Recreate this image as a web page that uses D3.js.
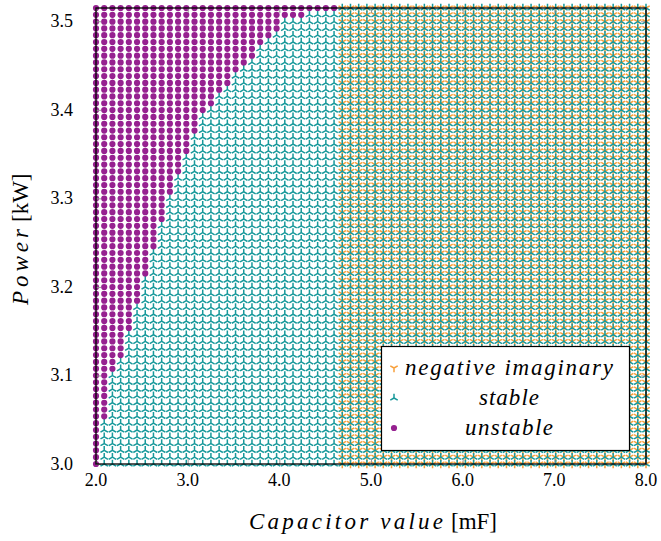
<!DOCTYPE html>
<html><head><meta charset="utf-8">
<script src="https://cdn.jsdelivr.net/npm/d3@7/dist/d3.min.js"></script>
</head><body style="margin:0">
<svg id="s" width="661" height="541"></svg>
<script>
// Capacitor sweep values [mF] (x grid)
const capacitorValues = [2.0000,2.0896,2.1791,2.2687,2.3582,2.4478,2.5373,2.6269,2.7164,2.8060,2.8955,2.9851,3.0746,3.1642,3.2537,3.3433,3.4328,3.5224,3.6119,3.7015,3.7910,3.8806,3.9701,4.0597,4.1493,4.2388,4.3284,4.4179,4.5075,4.5970,4.6866,4.7761,4.8657,4.9552,5.0448,5.1343,5.2239,5.3134,5.4030,5.4925,5.5821,5.6716,5.7612,5.8507,5.9403,6.0299,6.1194,6.2090,6.2985,6.3881,6.4776,6.5672,6.6567,6.7463,6.8358,6.9254,7.0149,7.1045,7.1940,7.2836,7.3731,7.4627,7.5522,7.6418,7.7313,7.8209,7.9104,8.0000];
// Power sweep values [kW] (y grid)
const powerValues = [3.0000,3.0077,3.0154,3.0231,3.0307,3.0384,3.0461,3.0538,3.0615,3.0692,3.0769,3.0846,3.0922,3.0999,3.1076,3.1153,3.1230,3.1307,3.1384,3.1460,3.1537,3.1614,3.1691,3.1768,3.1845,3.1922,3.1999,3.2075,3.2152,3.2229,3.2306,3.2383,3.2460,3.2537,3.2613,3.2690,3.2767,3.2844,3.2921,3.2998,3.3075,3.3151,3.3228,3.3305,3.3382,3.3459,3.3536,3.3613,3.3690,3.3766,3.3843,3.3920,3.3997,3.4074,3.4151,3.4228,3.4304,3.4381,3.4458,3.4535,3.4612,3.4689,3.4766,3.4843,3.4919,3.4996,3.5073,3.5150];
// Number of unstable capacitor values (from the left) for each power row
const unstableCountPerRow = [1,1,1,1,1,1,1,2,2,2,2,2,2,2,3,3,4,4,4,4,5,5,5,5,6,6,6,6,7,7,7,7,8,8,8,8,9,9,9,9,10,10,10,11,11,11,12,12,12,13,13,13,14,15,15,16,17,17,18,19,20,20,21,22,23,23,26,30];
// Capacitor value from which eigenvalues have negative imaginary part
const negativeImaginaryFrom = [4.6866];
const xTicks = [2.0,3.0,4.0,5.0,6.0,7.0,8.0];
const yTicks = [3.0,3.1,3.2,3.3,3.4,3.5];
const seriesNames = ["negative imaginary","stable","unstable"];
const colors = {neg:"#f8a03c", stable:"#18999b", unstable:"#962190"};
const f = "Liberation Serif";

const svg = d3.select("#s");
svg.append("rect").attr("width",661).attr("height",541).attr("fill","#fff");
const L=96,R=646,T=8,B=464;
const x = d3.scaleLinear().domain([2.0,8.0]).range([L,R]);
const y = d3.scaleLinear().domain([3.0,3.515]).range([B,T]);

const pts = [];
powerValues.forEach((p,j)=>{
  capacitorValues.forEach((c,k)=>{
    pts.push({c,p,unstable:k<unstableCountPerRow[j],neg:c>=negativeImaginaryFrom[0]-1e-9});
  });
});

const r = 4.3, cs = Math.cos(Math.PI/6)*r, sn = Math.sin(Math.PI/6)*r, dr = 3.1;
const triUpAt = (px,py)=>`M${px},${py}L${px},${py-r}M${px},${py}L${px-cs},${py+sn}M${px},${py}L${px+cs},${py+sn}`;
const triDownAt = (px,py)=>`M${px},${py}L${px},${py+r}M${px},${py}L${px-cs},${py-sn}M${px},${py}L${px+cs},${py-sn}`;
const dotAt = (px,py)=>`M${px+dr},${py}A${dr},${dr} 0 1,1 ${px-dr},${py}A${dr},${dr} 0 1,1 ${px+dr},${py}Z`;

svg.append("path").attr("d",pts.filter(d=>d.neg).map(d=>triDownAt(x(d.c),y(d.p))).join(""))
  .attr("stroke",colors.neg).attr("stroke-width",1.5).attr("fill","none");
svg.append("path").attr("d",pts.filter(d=>!d.unstable).map(d=>triUpAt(x(d.c),y(d.p))).join(""))
  .attr("stroke",colors.stable).attr("stroke-width",1.5).attr("fill","none");
svg.append("path").attr("d",pts.filter(d=>d.unstable).map(d=>dotAt(x(d.c),y(d.p))).join(""))
  .attr("fill",colors.unstable);

// axes: ticks only (inward); labels drawn as plain text below
const ax = (sel)=>{sel.select(".domain").remove(); sel.selectAll(".tick line").attr("stroke","#999").attr("stroke-width",1); sel.selectAll("text").remove();};
svg.append("g").attr("transform",`translate(0,${B})`).call(d3.axisBottom(x).tickValues(xTicks).tickSize(-5)).call(ax);
svg.append("g").attr("transform",`translate(0,${T})`).call(d3.axisTop(x).tickValues(xTicks).tickSize(-5)).call(ax);
svg.append("g").attr("transform",`translate(${L},0)`).call(d3.axisLeft(y).tickValues(yTicks).tickSize(-5)).call(ax);
svg.append("g").attr("transform",`translate(${R},0)`).call(d3.axisRight(y).tickValues(yTicks).tickSize(-5)).call(ax);

svg.append("rect").attr("x",L).attr("y",T).attr("width",R-L).attr("height",B-T)
  .attr("fill","none").attr("stroke","#000").attr("stroke-width",1.3);

const fmt = d3.format(".1f");
xTicks.forEach(t=>{
  svg.append("text").attr("x",x(t)).attr("y",486).attr("text-anchor","middle").attr("font-size",18).style("font-family",`"${f}"`).text(fmt(t));
});
yTicks.forEach(t=>{
  svg.append("text").attr("x",73).attr("y",y(t)+6).attr("text-anchor","end").attr("font-size",18).style("font-family",`"${f}"`).text(fmt(t));
});

// axis labels
svg.append("text").attr("x",249).attr("y",529).attr("font-size",23).style("font-family",`"${f}"`)
  .attr("font-style","italic").attr("textLength",194).attr("lengthAdjust","spacing").text("Capacitor value");
svg.append("text").attr("x",451).attr("y",529).attr("font-size",23).style("font-family",`"${f}"`).text("[mF]");
svg.append("text").attr("transform","translate(28,305) rotate(-90)").attr("font-size",23).style("font-family",`"${f}"`)
  .attr("font-style","italic").attr("textLength",76).attr("lengthAdjust","spacing").text("Power");
svg.append("text").attr("transform","translate(28,222) rotate(-90)").attr("font-size",23).style("font-family",`"${f}"`).text("[kW]");

// legend
svg.append("rect").attr("x",381.5).attr("y",346.5).attr("width",248).attr("height",104)
  .attr("fill","#fff").attr("stroke","#000").attr("stroke-width",1.2);
const rows = [368,398,428];
const widths = [208,60,88];
svg.append("path").attr("d",triDownAt(394,rows[0])).attr("stroke",colors.neg).attr("stroke-width",1.5).attr("fill","none");
svg.append("path").attr("d",triUpAt(394,rows[1])).attr("stroke",colors.stable).attr("stroke-width",1.5).attr("fill","none");
svg.append("path").attr("d",dotAt(394,rows[2])).attr("fill",colors.unstable);
seriesNames.forEach((s,i)=>{
  svg.append("text").attr("x",509).attr("y",rows[i]+7).attr("text-anchor","middle")
    .attr("font-size",23).attr("font-style","italic").style("font-family",`"${f}"`)
    .attr("textLength",widths[i]).attr("lengthAdjust","spacing").text(s);
});
</script></body></html>
